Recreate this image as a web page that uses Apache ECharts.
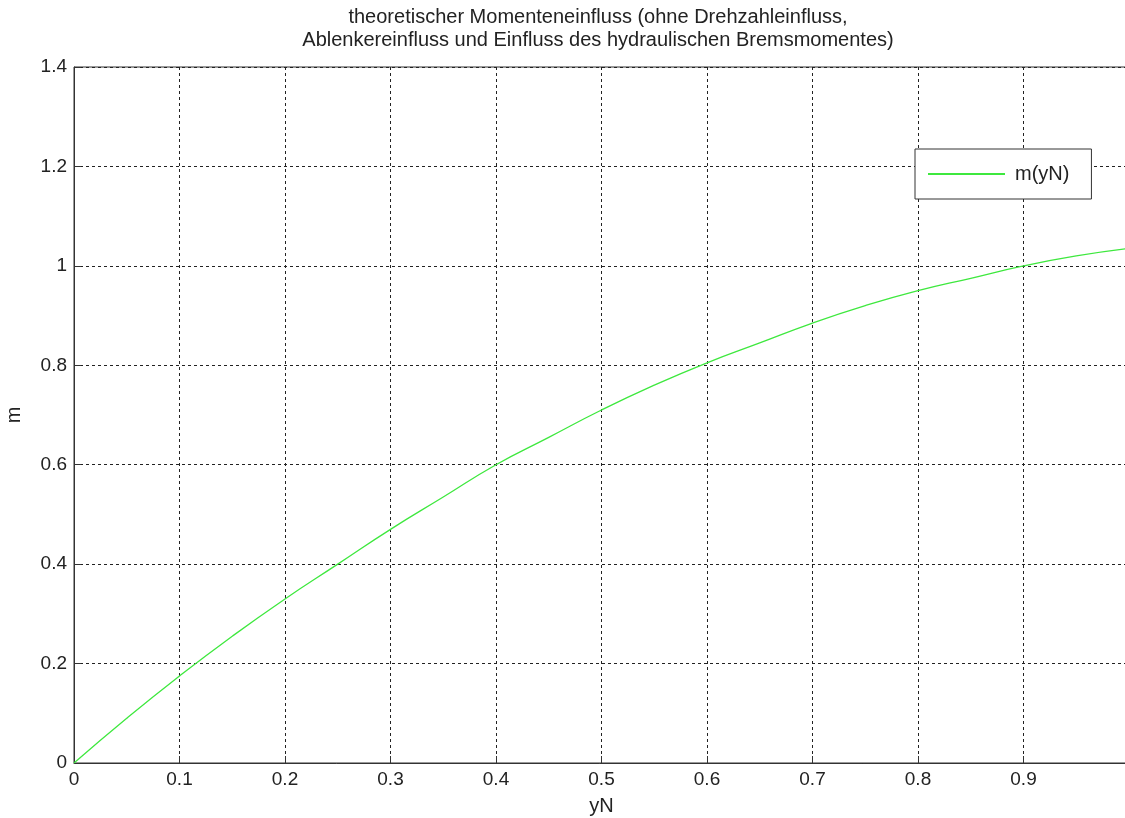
<!DOCTYPE html>
<html><head><meta charset="utf-8">
<script src="https://cdn.jsdelivr.net/npm/echarts@6/dist/echarts.min.js"></script>
<style>html,body{margin:0;padding:0;background:#fff}#c{width:1125px;height:818px}</style>
</head><body><div id="c"></div>
<script>
const titleLines = ["theoretischer Momenteneinfluss (ohne Drehzahleinfluss,", "Ablenkereinfluss und Einfluss des hydraulischen Bremsmomentes)"];
const xName = "yN";
const yName = "m";
const seriesName = "m(yN)";
const xValues = [0, 0.05, 0.1, 0.15, 0.2, 0.25, 0.3, 0.35, 0.4, 0.45, 0.5, 0.55, 0.6, 0.65, 0.7, 0.75, 0.8, 0.85, 0.9, 0.95, 1.0];
const mValues = [0, 0.09, 0.175, 0.255, 0.33, 0.40, 0.47, 0.535, 0.60, 0.655, 0.71, 0.76, 0.805, 0.845, 0.885, 0.92, 0.95, 0.975, 1.0, 1.02, 1.035];

const font = "Liberation Sans, Arial, sans-serif";
const chart = echarts.init(document.getElementById('c'), null, {renderer: 'canvas'});
chart.setOption({
  animation: false,
  backgroundColor: '#fff',
  title: {
    text: titleLines.join('\n'),
    left: 598, top: 6, textAlign: 'center', padding: 0,
    textStyle: {fontFamily: font, fontSize: 20, fontWeight: 'normal', color: '#222', lineHeight: 23}
  },
  legend: {
    left: 915, top: 149,
    orient: 'vertical',
    padding: [15, 22, 15, 13],
    itemWidth: 77, itemHeight: 2, itemGap: 0,
    borderColor: '#333', borderWidth: 1, backgroundColor: '#fff',
    textStyle: {fontFamily: font, fontSize: 20, color: '#222', padding: [0, 0, 0, 5]},
    data: [{name: seriesName, icon: 'rect'}]
  },
  grid: {left: 74, width: 1055, top: 67, bottom: 55, containLabel: false, outerBoundsMode: 'none',
         show: true, borderColor: '#333', borderWidth: 1},
  xAxis: {
    type: 'value', min: 0, max: 1, interval: 0.1,
    name: xName, nameLocation: 'middle', nameGap: 33,
    nameTextStyle: {fontFamily: font, fontSize: 20, color: '#222'},
    axisLine: {show: true, onZero: false, lineStyle: {color: '#333', width: 1}},
    axisTick: {show: true, inside: true, length: 7, lineStyle: {color: '#333'}},
    axisLabel: {fontFamily: font, fontSize: 19, color: '#222', margin: 7, showMaxLabel: true,
                formatter: v => String(+v.toFixed(1))},
    splitLine: {show: true, lineStyle: {color: '#222', type: [3, 3], width: 1}}
  },
  yAxis: {
    type: 'value', min: 0, max: 1.4, interval: 0.2,
    name: yName, nameLocation: 'middle', nameGap: 50, nameRotate: 90,
    nameTextStyle: {fontFamily: font, fontSize: 20, color: '#222'},
    axisLine: {show: true, onZero: false, lineStyle: {color: '#333', width: 1}},
    axisTick: {show: true, inside: true, length: 7, lineStyle: {color: '#333'}},
    axisLabel: {fontFamily: font, fontSize: 19, color: '#222', margin: 7,
                formatter: v => String(+v.toFixed(1))},
    splitLine: {show: true, lineStyle: {color: '#222', type: [3, 3], width: 1}}
  },
  series: [{
    name: seriesName, type: 'line', smooth: true, symbol: 'none',
    lineStyle: {color: '#3ee83e', width: 1.3}, itemStyle: {color: '#3ee83e'},
    data: xValues.map((x, i) => [x, mValues[i]])
  }]
});
</script></body></html>
